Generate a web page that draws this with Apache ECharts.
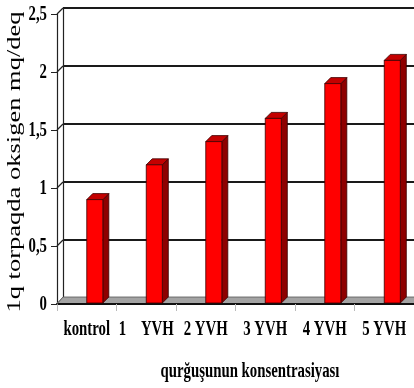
<!DOCTYPE html>
<html>
<head>
<meta charset="utf-8">
<script src="https://cdn.jsdelivr.net/npm/echarts@6/dist/echarts.min.js"></script>
<style>
  html, body { margin: 0; padding: 0; background: #ffffff; }
  #chart { width: 414px; height: 388px; }
</style>
</head>
<body>
<div id="chart"></div>
<script>
// Soil oxygen by lead concentration
const categories = ['kontrol', '1    YVH', '2 YVH', '3 YVH', '4 YVH', '5 YVH'];
const oxygenValues = [0.9, 1.2, 1.4, 1.6, 1.9, 2.1];
const yTicks = [0, 0.5, 1, 1.5, 2, 2.5];
const yTickLabels = ['0', '0,5', '1', '1,5', '2', '2,5'];
const xAxisTitle = 'qurğuşunun konsentrasiyası';
const yAxisTitle = '1q torpaqda oksigen mq/deq';

// depth offset of the pseudo-3D box (px)
const DX = 6, DY = 6;
const SERIF = '"Liberation Serif", "Times New Roman", serif';
const NARROW = 0.74;

const chart = echarts.init(document.getElementById('chart'), null, { renderer: 'canvas' });

function txt(x, y, text, font, align, vAlign, sx) {
  return {
    type: 'text', x: x, y: y, scaleX: sx, scaleY: 1,
    style: {
      text: text, x: 0, y: 0, font: font, fill: '#000',
      align: align, textAlign: align,
      verticalAlign: vAlign, textVerticalAlign: vAlign
    }
  };
}

const option = {
  animation: false,
  backgroundColor: '#ffffff',
  grid: [
    // back wall
    { left: 63, top: 8, right: -8, bottom: 90 },
    // front plane
    { left: 57, top: 14, right: -2, bottom: 84 }
  ],
  xAxis: [
    { gridIndex: 0, type: 'category', data: categories, show: false },
    {
      gridIndex: 1, type: 'category', data: categories,
      axisLine: { show: true, lineStyle: { color: '#111', width: 2 } },
      axisTick: { show: true, length: 7, interval: 0, lineStyle: { color: '#bbbbbb', width: 1 } },
      axisLabel: { show: false },
      splitLine: { show: false }
    }
  ],
  yAxis: [
    {
      gridIndex: 0, type: 'value', min: 0, max: 2.5, interval: 0.5,
      axisLine: { show: true, lineStyle: { color: '#222', width: 1.2 } },
      axisTick: { show: false }, axisLabel: { show: false },
      splitLine: { show: true, lineStyle: { color: '#1a1a1a', width: 1.8 } }
    },
    {
      gridIndex: 1, type: 'value', min: 0, max: 2.5, interval: 0.5,
      axisLine: { show: true, lineStyle: { color: '#222', width: 1.2 } },
      axisTick: { show: true, length: 6, lineStyle: { color: '#222', width: 1 } },
      axisLabel: { show: false },
      splitLine: { show: false }
    }
  ],
  series: [
    {
      // side wall diagonals joining front ticks to back gridlines
      type: 'custom', name: 'sideWall', xAxisIndex: 1, yAxisIndex: 1, z: 3,
      data: yTicks.map(v => [0, v]),
      renderItem: function (params, api) {
        const cs = params.coordSys;
        const y = api.coord([0, api.value(1)])[1];
        return {
          type: 'line',
          shape: { x1: cs.x, y1: y, x2: cs.x + DX, y2: y - DY },
          style: { stroke: '#222', lineWidth: 1.2 }
        };
      }
    },
    {
      // grey floor
      type: 'custom', name: 'floor', xAxisIndex: 1, yAxisIndex: 1, z: 3,
      data: [[0, 0]],
      renderItem: function (params, api) {
        const cs = params.coordSys;
        const y0 = api.coord([0, 0])[1] - 1;
        const x0 = cs.x, x1 = cs.x + cs.width + DX;
        return {
          type: 'group',
          children: [
            {
              type: 'polygon',
              shape: { points: [[x0, y0], [x0 + DX, y0 - DY], [x1 + DX, y0 - DY], [x1, y0]] },
              style: { fill: '#a3a3a3', stroke: null }
            },
            {
              type: 'polyline',
              shape: { points: [[x0, y0 + 1], [x0 + DX, y0 - DY], [x1 + DX, y0 - DY]] },
              style: { stroke: '#555', lineWidth: 0.8, fill: null }
            }
          ]
        };
      }
    },
    {
      // 3D-style columns
      type: 'custom', name: 'oksigen', xAxisIndex: 1, yAxisIndex: 1, z: 4,
      data: oxygenValues.map((v, i) => [i, v]),
      renderItem: function (params, api) {
        const i = api.value(0), v = api.value(1);
        const top = api.coord([i, v]);
        const base = api.coord([i, 0]);
        const w = api.size([1, 0])[0] * 0.27;
        const xl = top[0], xr = top[0] + w;
        const yt = top[1], yb = base[1] - 1;
        const edge = { stroke: '#3a0000', lineWidth: 0.8 };
        return {
          type: 'group',
          children: [
            {
              type: 'polygon',
              shape: { points: [[xr, yb], [xr + DX, yb - DY], [xr + DX, yt - DY], [xr, yt]] },
              style: Object.assign({ fill: '#8e0000' }, edge)
            },
            {
              type: 'polygon',
              shape: { points: [[xl, yt], [xl + DX, yt - DY], [xr + DX, yt - DY], [xr, yt]] },
              style: Object.assign({ fill: '#c40000' }, edge)
            },
            {
              type: 'rect',
              shape: { x: xl, y: yt, width: w, height: yb - yt },
              style: Object.assign({ fill: '#ff0000' }, edge)
            }
          ]
        };
      }
    },
    {
      // value axis labels
      type: 'custom', name: 'yLabels', xAxisIndex: 1, yAxisIndex: 1, z: 5,
      data: yTicks.map(v => [0, v]),
      renderItem: function (params, api) {
        const cs = params.coordSys;
        const y = api.coord([0, api.value(1)])[1] + 1;
        return txt(cs.x - 10, y, yTickLabels[params.dataIndex], 'bold 20px ' + SERIF, 'right', 'middle', NARROW);
      }
    },
    {
      // category labels
      type: 'custom', name: 'xLabels', xAxisIndex: 1, yAxisIndex: 1, z: 5,
      data: categories.map((c, i) => [i, 0]),
      renderItem: function (params, api) {
        const p = api.coord([api.value(0), 0]);
        return txt(p[0], p[1] + 26, categories[params.dataIndex], 'bold 20px ' + SERIF, 'center', 'middle', NARROW);
      }
    }
  ],
  graphic: [
    {
      type: 'text', x: 250, y: 372, scaleX: NARROW,
      style: {
        text: xAxisTitle, font: 'bold 20px ' + SERIF, fill: '#000',
        align: 'center', textAlign: 'center', verticalAlign: 'middle', textVerticalAlign: 'middle'
      }
    },
    {
      type: 'text', x: 15, y: 162, rotation: Math.PI / 2, scaleY: 0.73,
      style: {
        text: yAxisTitle, font: '26.5px ' + SERIF, fill: '#000',
        align: 'center', textAlign: 'center', verticalAlign: 'middle', textVerticalAlign: 'middle'
      }
    }
  ]
};

chart.setOption(option);
</script>
</body>
</html>
